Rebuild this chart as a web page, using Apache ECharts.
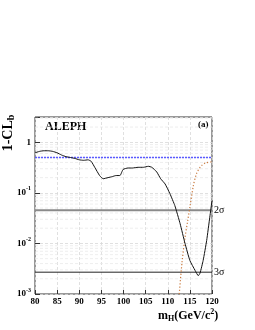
<!DOCTYPE html>
<html><head><meta charset="utf-8">
<script src="https://cdn.jsdelivr.net/npm/echarts@6/dist/echarts.min.js"></script>
<style>html,body{margin:0;padding:0;background:#fff}#c{width:255px;height:330px}</style>
</head><body><div id="c"></div>
<script>
const massObs = [80,81,82,83,84,85,86,87,88,89,90,91,92,92.7,93.5,94.6,95.4,96.5,97.5,98.3,99.2,99.9,101,102,103.3,104.5,105.6,106.4,107.5,108.4,109.4,110.5,111.6,112.8,113.9,115.0,116.2,116.9,117.3,118.0,118.8,119.5,120];
const clbObs = [0.62,0.66,0.68,0.68,0.66,0.62,0.56,0.52,0.50,0.48,0.45,0.44,0.45,0.42,0.32,0.22,0.19,0.20,0.21,0.22,0.22,0.29,0.31,0.31,0.32,0.32,0.335,0.32,0.26,0.19,0.15,0.096,0.056,0.0245,0.010,0.0046,0.0029,0.0023,0.0026,0.0046,0.0115,0.033,0.07];
const massExp = [112.6,113.2,113.9,114.5,115.0,115.8,116.5,117.2,117.7,118.5,119.9];
const clbExp = [0.001,0.004,0.013,0.028,0.052,0.14,0.24,0.31,0.35,0.39,0.41];
const refBlue = 0.5;
const sigma2 = 0.0455;
const sigma3 = 0.0027;
const xRange = [80,120];
const yDecades = [-3,-2,-1,0];

const font = '"Liberation Serif","DejaVu Serif",serif';
const minorVals = [];
for (const d of yDecades) for (let k=2;k<=9;k++){ const v=k*Math.pow(10,d); if (v<Math.pow(10,0.5)) minorVals.push(v); }

const hline = (v, style, extra) => Object.assign({type:'line',silent:true,showSymbol:false,symbol:'none',
  data:[[xRange[0],v],[xRange[1],v]],lineStyle:style}, extra||{});

const chart = echarts.init(document.getElementById('c'), null, {renderer:'canvas'});
const toPairs = (xs, ys) => xs.map((x,i)=>[x,ys[i]]);
const series = [];
minorVals.forEach(v=>series.push(hline(v,{color:'#e6e6e6',type:[3,2],width:0.7})));
series.push(hline(refBlue,{color:'#5a5aff',type:[2,1],width:1.5}));
series.push(hline(sigma2,{color:'#8a8a8a',type:'solid',width:2},
  {endLabel:{show:true,formatter:'2σ',fontFamily:font,fontSize:10,color:'#000',distance:2}}));
series.push(hline(sigma3,{color:'#222',type:'solid',width:1},
  {endLabel:{show:true,formatter:'3σ',fontFamily:font,fontSize:10,color:'#000',distance:2}}));
series.push({type:'line',data:toPairs(massExp,clbExp),showSymbol:false,smooth:0.3,
  lineStyle:{color:'#c8783c',type:[1.2,2],width:1.2}});
series.push({type:'line',data:toPairs(massObs,clbObs),showSymbol:false,smooth:0.15,
  lineStyle:{color:'#111',width:1}});

chart.setOption({
  animation:false,
  grid:{left:35,right:43,top:117,bottom:36,show:true,borderColor:'#333',borderWidth:1},
  xAxis:{type:'value',min:80,max:120,interval:5,
    axisLine:{show:false},axisTick:{show:true,inside:true,length:4,lineStyle:{color:'#333'}},
    axisLabel:{fontFamily:font,fontWeight:'bold',fontSize:9,color:'#000',margin:3},
    splitLine:{show:true,lineStyle:{color:'#d8d8d8',type:[3,2],width:0.8}}},
  yAxis:{type:'log',logBase:10,min:0.001,max:Math.pow(10,0.5),
    axisLine:{show:false},axisTick:{show:true,inside:true,length:5,lineStyle:{color:'#333'}},
    axisLabel:{margin:4,fontFamily:font,fontWeight:'bold',color:'#000',
      formatter:v=>{const l=Math.round(Math.log10(v)); if(Math.abs(Math.log10(v)-l)>1e-6||l>0) return ''; if(l===0) return '{b|1}'; return '{b|10}{s|'+l+'}';},
      rich:{b:{fontFamily:font,fontWeight:'bold',fontSize:9,color:'#000'},s:{fontFamily:font,fontWeight:'bold',fontSize:6,color:'#000',padding:[0,0,8,0]}}},
    splitLine:{show:true,lineStyle:{color:'#d8d8d8',type:[3,2],width:0.8}}},
  series:series,
  graphic:[
    {type:'text',left:45,top:121,style:{text:'ALEPH',font:'bold 12px '+font,fill:'#000'}},
    {type:'text',left:198,top:120,style:{text:'(a)',font:'bold 9px '+font,fill:'#000'}},
    {type:'text',x:8,y:133,rotation:Math.PI/2,style:{text:'{a|1-CL}{s|b}',align:'center',verticalAlign:'middle',
      rich:{a:{fontFamily:font,fontWeight:'bold',fontSize:14,fill:'#000'},s:{fontFamily:font,fontWeight:'bold',fontSize:10,fill:'#000',padding:[7,0,0,0]}}}},
    {type:'text',left:158,top:308,style:{text:'{a|m}{s|H}{a|(GeV/c}{p|2}{a|)}',
      rich:{a:{fontFamily:font,fontWeight:'bold',fontSize:12,fill:'#000'},s:{fontFamily:font,fontWeight:'bold',fontSize:8,fill:'#000',padding:[6,0,0,0]},p:{fontFamily:font,fontWeight:'bold',fontSize:8,fill:'#000',padding:[0,0,7,0]}}}}
  ]
});
</script></body></html>
